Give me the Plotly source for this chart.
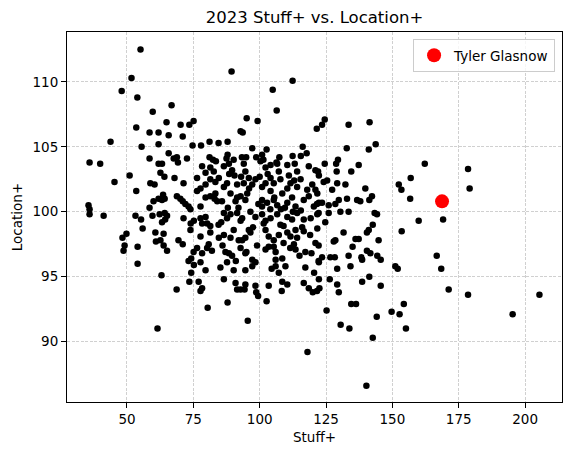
import plotly.graph_objects as go

# All pitchers: Stuff+ (x) and Location+ (y)
stuff_plus = [
    # top-left region
    55.1, 51.7, 48.0, 53.9, 59.7, 66.8, 64.9, 70.2, 73.5, 75.1, 53.5, 58.5, 61.9, 65.7, 71.0,
    43.8, 55.5, 61.9, 74.7, 65.7, 58.5, 67.6, 68.8, 72.6, 35.9, 39.9, 61.9, 63.2, 69.2,
    # top-middle region
    89.4, 112.4, 104.9, 106.4, 95.1, 99.2, 92.8, 93.6, 77.9, 81.1, 84.5, 87.9, 97.2, 102.6,
    116.2, 117.7, 81.1, 82.4, 87.9, 87.5, 90.2, 93.3, 94.9, 98.7, 100.9, 101.4, 107.4, 106.3,
    112.4, 113.2,
    # top-right-middle region
    124.5, 123.5, 121.5, 133.5, 141.4, 132.8, 141.1, 143.7, 129.5,
    # right-middle region
    162.2, 156.9, 152.4, 153.4, 156.7, 159.9, 153.5, 166.7, 168.4, 151.1, 152.0, 144.8, 139.8,
    142.3, 141.3, 137.3, 134.5, 128.8, 129.0, 124.5, 143.3, 144.2, 142.6, 141.1, 140.4, 131.6,
    136.1, 137.3, 127.9, 128.5, 135.0, 140.4, 141.7, 133.5, 138.3, 138.6, 144.3, 145.6, 129.2,
    134.2, 126.4, 129.2, 138.6, 141.3, 145.6, 122.5, 129.8,
    122.0, 124.1, 125.4, 127.3, 129.2, 132.3, 129.8, 128.5, 132.9, 136.7, 137.9, 123.5, 126.0,
    130.4, 133.5, 121.0, 121.6, 122.2, 126.0, 124.7, 122.2, 123.5, 126.6, 128.3, 122.2,
    # far right
    178.5, 179.1, 169.1, 171.2, 178.5, 205.4, 195.3,
    # bottom
    77.7, 80.4, 87.9, 91.5, 94.3, 95.5, 98.7, 99.4, 102.6, 108.3, 118.0, 120.0, 121.6,
    134.5, 136.3, 125.2, 130.5, 133.8, 144.1, 142.6, 140.2, 149.7, 152.7, 154.3, 155.1,
    61.5, 68.7,
    # left-middle region
    51.0, 45.3, 53.5, 35.5, 35.9, 35.9, 41.2, 53.2, 55.3, 55.9, 49.8, 48.3, 49.1, 48.7, 54.0,
    54.0, 63.0, 58.5, 59.6, 60.7, 63.8, 60.9, 62.6, 63.8, 65.1, 60.0, 61.9, 63.6, 63.2, 64.2,
    62.3, 64.2, 65.1, 63.2, 64.4, 58.8, 60.4, 62.6, 64.1, 67.9, 71.3, 68.8, 70.1, 71.0, 72.0,
    73.2, 73.9, 71.3, 74.0, 69.4, 71.0, 73.2, 74.2, 75.1, 74.2, 73.5,
    # dense centre
    78.3, 79.6, 81.4, 82.7, 86.5, 88.4, 89.6, 94.0, 94.6, 100.3, 102.2, 104.1, 106.6, 107.2,
    110.4, 111.0, 114.1, 118.5, 121.0, 122.3,
    76.4, 76.4, 77.7, 79.6, 81.4, 83.3, 84.6, 86.5, 87.7, 89.0, 91.5, 94.0, 95.9, 97.2, 98.4,
    100.9, 102.2, 104.1, 104.1, 105.3, 107.8, 108.5, 110.4, 111.6, 114.1, 115.4, 117.9, 119.8,
    121.7,
    77.7, 79.6, 81.4, 83.3, 84.0, 85.8, 90.9, 91.5, 92.8, 94.6, 95.3, 100.9, 100.9, 102.8,
    105.3, 106.6, 110.4, 112.2, 113.5, 116.6, 118.5, 120.4, 122.3,
    75.2, 77.7, 78.3, 79.6, 80.2, 81.4, 86.5, 87.7, 89.0, 91.5, 92.8, 93.4, 96.5, 98.4, 100.9,
    102.2, 104.1, 106.6, 107.8, 110.4, 112.2, 114.1, 116.6, 119.2, 121.7,
    73.9, 77.7, 81.4, 84.6, 86.5, 90.2, 92.1, 93.4, 94.6, 95.9, 96.5, 102.2, 103.4, 105.3,
    107.2, 110.4, 111.6, 113.5, 114.1, 116.6, 121.7,
    76.4, 78.3, 80.2, 80.8, 87.1, 88.4, 89.6, 92.8, 94.6, 97.2, 102.2, 103.4, 105.3, 106.0,
    112.9, 113.5, 117.2, 121.0,
    75.2, 77.7, 79.6, 85.2, 87.7, 90.2, 94.6, 97.2, 98.4, 106.0, 106.0, 107.2, 109.7, 117.2,
    122.3,
    77.0, 78.3, 86.5, 90.9, 92.8, 94.6, 98.4, 103.4, 108.5, 110.4, 116.6, 118.5, 122.3,
    # extra points in the dense centre
    83.0, 85.5, 88.0, 90.5, 96.0, 99.5, 103.0, 108.0, 109.0, 113.0, 115.5, 119.0,
    84.5, 89.0, 92.0, 97.5, 101.5, 105.5, 109.0, 112.5, 116.0, 119.5,
    82.0, 86.0, 91.0, 95.0, 99.0, 104.5, 108.5, 111.5, 115.0, 120.5,
    83.5, 88.5, 93.0, 100.0, 104.0, 109.5, 115.5,
]

location_plus = [
    # top-left region
    112.5, 110.3, 109.3, 108.8, 107.7, 108.2, 106.9, 106.7, 106.7, 107.0, 106.5, 106.1, 106.1, 105.9, 105.8,
    105.4, 105.0, 105.2, 105.1, 104.5, 104.1, 104.1, 104.2, 104.1, 103.8, 103.7, 103.7, 103.7, 103.8,
    # top-middle region
    110.8, 110.1, 109.4, 107.8, 107.2, 107.0, 106.2, 106.1, 105.1, 105.4, 105.3, 105.4, 104.9, 104.8,
    105.0, 104.5, 104.2, 104.0, 104.4, 104.1, 104.0, 104.2, 104.2, 104.2, 104.4, 104.0, 104.2, 103.8,
    104.3, 103.7,
    # top-right-middle region
    107.1, 106.7, 106.4, 106.7, 106.9, 104.9, 104.8, 105.2, 104.0,
    # right-middle region
    103.7, 102.6, 102.1, 101.7, 101.0, 99.3, 98.5, 96.6, 95.6, 95.8, 95.6, 97.8, 101.8,
    101.2, 100.9, 103.6, 103.1, 103.7, 103.1, 103.7, 99.9, 99.8, 99.0, 98.6, 98.4, 98.4,
    97.9, 97.9, 97.7, 97.8, 97.3, 97.0, 96.8, 96.6, 96.5, 96.3, 96.6, 96.3, 95.6,
    95.8, 94.8, 94.4, 94.6, 95.0, 94.3, 94.1, 93.8,
    103.1, 102.3, 102.4, 101.7, 102.2, 102.1, 100.9, 100.6, 101.0, 100.9, 100.8, 100.7, 100.5,
    100.0, 100.0, 101.7, 100.6, 99.9, 99.9, 99.2, 97.4, 96.5, 96.5, 96.5, 96.2,
    # far right
    103.3, 101.8, 99.4, 94.0, 93.6, 93.6, 92.1,
    # bottom
    93.9, 92.6, 93.0, 94.0, 94.0, 91.6, 93.8, 93.5, 93.1, 93.9, 89.2, 93.8, 93.9,
    92.9, 92.9, 92.4, 91.3, 91.0, 91.9, 90.3, 86.6, 92.3, 92.1, 92.9, 91.0,
    91.0, 94.0,
    # left-middle region
    102.8, 102.3, 101.6, 100.5, 100.2, 99.8, 99.7, 99.7, 99.4, 98.7, 98.3, 98.0, 97.4, 97.0, 97.3,
    96.0, 95.1, 100.3, 99.7, 98.4, 98.3, 97.7, 97.8, 97.4, 97.0, 100.8, 101.0, 101.3, 100.9, 101.0,
    99.8, 99.9, 99.7, 99.2, 99.4, 102.2, 102.1, 103.0, 102.7, 102.6, 102.2, 101.2, 101.0, 100.8, 100.6,
    100.4, 100.2, 99.5, 99.1, 97.8, 97.5, 96.2, 96.4, 96.9, 95.3, 94.6,
    # dense centre
    103.5, 103.0, 103.4, 103.1, 103.5, 103.7, 103.2, 103.7, 103.1, 103.9, 103.4, 103.6, 103.7, 103.1,
    103.6, 102.8, 103.1, 103.5, 103.2, 102.8,
    102.6, 101.6, 101.8, 102.1, 102.5, 102.3, 102.6, 101.9, 102.2, 101.4, 102.1, 102.2, 102.6, 102.1, 102.5,
    101.9, 102.2, 102.6, 101.6, 102.2, 102.5, 101.4, 101.8, 102.2, 101.9, 102.5, 101.7, 102.1,
    101.4,
    100.4, 101.1, 101.2, 101.4, 100.8, 100.8, 100.8, 101.1, 101.2, 100.9, 101.4, 100.9, 100.4, 100.7,
    100.9, 100.5, 100.7, 101.1, 100.4, 100.9, 101.2, 100.4, 100.7,
    99.3, 99.5, 99.1, 99.6, 99.1, 98.9, 99.9, 99.5, 99.8, 99.9, 99.3, 99.5, 100.0, 99.6, 99.8,
    99.3, 99.5, 99.8, 99.0, 99.6, 99.4, 99.9, 99.4, 99.5, 99.8,
    98.6, 98.1, 98.4, 98.0, 98.2, 98.6, 97.8, 97.8, 98.0, 98.6, 98.4, 98.6, 98.1, 97.8,
    98.2, 98.4, 98.1, 98.6, 98.0, 98.5, 98.7,
    97.2, 96.8, 97.2, 97.5, 96.9, 96.8, 96.6, 97.2, 96.8, 96.3, 97.1, 97.3, 97.3, 96.9,
    97.5, 97.1, 96.9, 97.6,
    95.9, 96.1, 95.5, 95.7, 96.1, 95.5, 95.5, 95.8, 96.1, 96.3, 95.8, 95.3, 95.8, 95.7,
    96.1,
    94.6, 94.1, 94.8, 94.5, 94.0, 94.4, 94.3, 94.3, 94.6, 94.4, 94.5, 94.1, 94.8,
    # extra points in the dense centre
    101.0, 99.2, 100.3, 102.8, 101.8, 100.6, 102.9, 100.2, 98.9, 102.4, 100.1, 98.2,
    99.0, 98.0, 100.3, 98.8, 99.1, 101.1, 97.6, 100.0, 98.8, 96.8,
    97.0, 97.4, 96.2, 96.9, 97.4, 95.6, 96.4, 97.2, 96.6, 95.3,
    103.9, 102.9, 102.7, 102.7, 100.2, 100.3, 104.3,
]

highlight_name = "Tyler Glasnow"
highlight_stuff = [168.7]
highlight_location = [100.8]

x_ticks = [50, 75, 100, 125, 150, 175, 200]
y_ticks = [90, 95, 100, 105, 110]

FONT = "DejaVu Sans"

fig = go.Figure()
fig.add_trace(go.Scatter(
    x=stuff_plus, y=location_plus, mode="markers",
    marker=dict(color="black", size=6.5, line=dict(width=0)),
    showlegend=False, hoverinfo="skip",
))
fig.add_trace(go.Scatter(
    x=highlight_stuff, y=highlight_location, mode="markers",
    marker=dict(color="red", size=14, line=dict(width=0)),
    name=highlight_name,
))

axis_common = dict(
    automargin=False,
    showline=True, linecolor="black", linewidth=1, mirror=True,
    ticks="outside", ticklen=5, tickwidth=1, tickcolor="black",
    showgrid=True, gridcolor="#b0b0b0", gridwidth=0.6, griddash="3px,1.5px",
    zeroline=False, tickfont=dict(family=FONT, size=13.5, color="black"),
)

fig.update_layout(
    width=571, height=455,
    margin=dict(l=67, r=9, t=32, b=53, autoexpand=False),
    paper_bgcolor="white", plot_bgcolor="white",
    font=dict(family=FONT, color="black"),
    title=dict(text="2023 Stuff+ vs. Location+", x=0.5, xref="paper",
               y=1 - 17 / 455, yref="container", yanchor="middle",
               font=dict(family=FONT, size=16.5, color="black")),
    xaxis=dict(range=[27.4, 213.9], tickvals=x_ticks,
               title=dict(text="Stuff+", standoff=6,
                          font=dict(family=FONT, size=13.5, color="black")),
               **axis_common),
    yaxis=dict(range=[85.34, 113.85], tickvals=y_ticks,
               title=dict(text="Location+", standoff=6,
                          font=dict(family=FONT, size=13.5, color="black")),
               **axis_common),
    legend=dict(x=0.986, xanchor="right", y=0.981, yanchor="top",
                bgcolor="rgba(255,255,255,0.8)", bordercolor="#cccccc", borderwidth=1,
                font=dict(family=FONT, size=13.5, color="black")),
)

fig.write_html(
    "out.html",
    config={"displayModeBar": False, "staticPlot": True},
    post_script="document.body.style.margin='0';document.body.style.overflow='hidden';",
)
